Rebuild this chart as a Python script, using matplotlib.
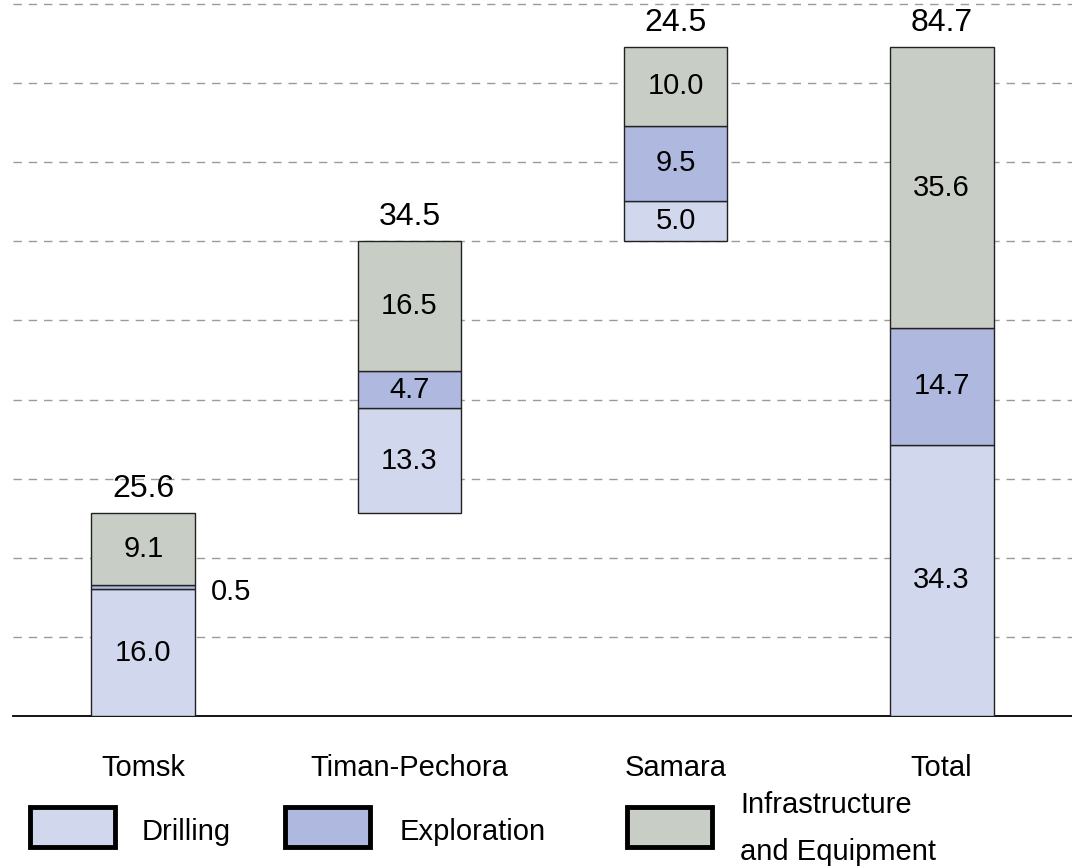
import matplotlib
matplotlib.use("Agg")
import matplotlib.pyplot as plt
from matplotlib.patches import Rectangle
import numpy as np

# Data.
categories = ["Tomsk", "Timan-Pechora", "Samara", "Total"]
drilling = [16.0, 13.3, 5.0, 34.3]
exploration = [0.5, 4.7, 9.5, 14.7]
infrastructure = [9.1, 16.5, 10.0, 35.6]
totals = [25.6, 34.5, 24.5, 84.7]
series_names = ["Drilling", "Exploration", "Infrastructure\nand Equipment"]

colors = ["#d1d7ec", "#afb8de", "#c8cdc5"]

plt.rcParams.update({
    "font.family": ["Liberation Sans", "DejaVu Sans"],
})

fig = plt.figure(figsize=(10.72, 8.68), dpi=100)
ax = fig.add_axes([13 / 1072, 152 / 868, 1 - 13 / 1072, 716 / 868])

x = np.arange(len(categories))
width = 0.39

# Waterfall: regional bars float on the running total, the Total bar starts at zero.
base = np.array([0, totals[0], totals[0] + totals[1], 0])

segments = [drilling, exploration, infrastructure]
bottom = base.copy()
for vals, col in zip(segments, colors):
    vals = np.array(vals)
    ax.bar(x, vals, width, bottom=bottom, color=col, edgecolor="#222222",
           linewidth=1, zorder=3)
    for i, v in enumerate(vals):
        if v < 1:
            # too thin, put label beside the bar
            ax.annotate(f"{v:.1f}", (x[i] + width / 2, bottom[i] + v / 2),
                        xytext=(16, -5), textcoords="offset pixels",
                        ha="left", va="center", fontsize=21, zorder=4)
        else:
            ax.text(x[i], bottom[i] + v / 2, f"{v:.1f}", ha="center",
                    va="center", fontsize=21, zorder=4)
    bottom = bottom + vals

# Totals above each bar.
for i, t in enumerate(totals):
    ax.annotate(f"{t:.1f}", (x[i], bottom[i]), xytext=(0, 9),
                textcoords="offset pixels", ha="center", va="bottom",
                fontsize=23, zorder=4)

# Dashed grid lines.
for g in range(10, 100, 10):
    ax.axhline(g, color="#9a9a9a", linewidth=1, linestyle=(0, (6, 5)), zorder=1)

ax.set_xlim(-0.49, 3.49)
ax.set_ylim(0, 90.5)
ax.set_xticks(x)
ax.set_xticklabels(categories, fontsize=21)
ax.tick_params(axis="x", length=0, pad=27)
ax.set_yticks([])
for side in ["left", "right", "top"]:
    ax.spines[side].set_visible(False)
ax.spines["bottom"].set_linewidth(1.3)
ax.spines["bottom"].set_color("black")

# Legend drawn by hand in pixel coordinates.
W, H = 1072, 868
patch_x = [30, 285, 627]
text_x = [142, 400, 740]
for px, tx, col, name in zip(patch_x, text_x, colors, series_names):
    fig.add_artist(Rectangle((px / W, (H - 847) / H), 85 / W, 40 / H,
                             transform=fig.transFigure, facecolor=col,
                             edgecolor="black", linewidth=3.5))
    if "\n" in name:
        first, second = name.split("\n")
        fig.text(tx / W, (H - 805) / H, first, fontsize=21, va="center", ha="left")
        fig.text(tx / W, (H - 852) / H, second, fontsize=21, va="center", ha="left")
    else:
        fig.text(tx / W, (H - 832) / H, name, fontsize=21, va="center", ha="left")

fig.savefig("out.png", dpi=100)
